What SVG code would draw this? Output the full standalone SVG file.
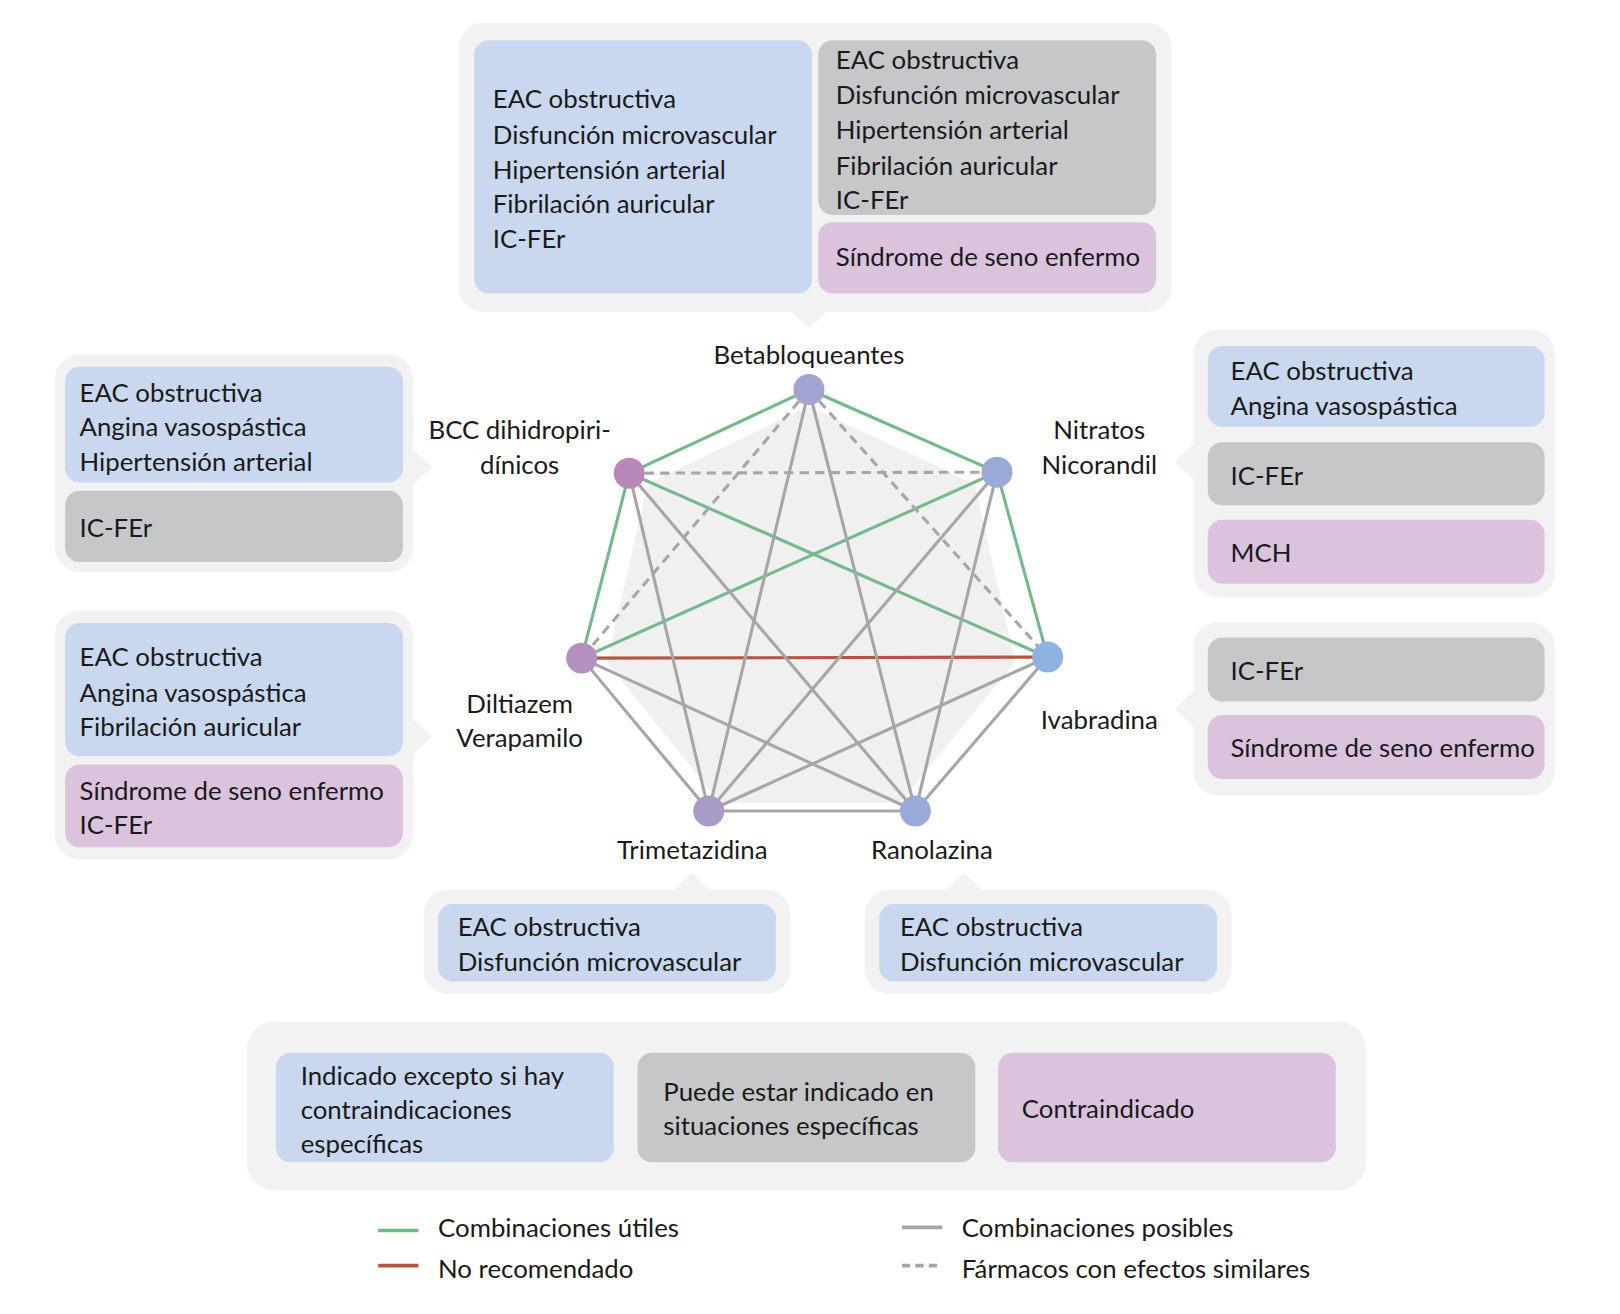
<svg xmlns="http://www.w3.org/2000/svg" width="1620" height="1314" viewBox="0 0 1620 1314">
<style>
text{font-family:Lato,"Open Sans",sans-serif;font-size:25px;fill:#1a1a1a}
.lbl{text-anchor:middle}
.panel{fill:#f2f2f2;stroke:#f2f2f2;stroke-width:4;stroke-linejoin:round}
.b{fill:#c9d8ee}.g{fill:#c6c7c9}.p{fill:#dbc3de}
.e{stroke-width:3;fill:none;stroke-linecap:round}
.gr{stroke:#74b98c}.rd{stroke:#b5553f}.gy{stroke:#a6a6a6}.ds{stroke:#a6a6a6;stroke-dasharray:9 6;stroke-linecap:butt}
</style>
<rect width="1620" height="1314" fill="#ffffff"/>
<g transform="scale(1.033163)">
<polygon points="783,401 633,473 595,639 700,770 868,770 975,639 937,473" fill="#f0f0f0" stroke="#f0f0f0" stroke-width="14" stroke-linejoin="round"/>
<g id="connectors">
<line class="e gr" x1="783" y1="377" x2="609" y2="458"/>
<line class="e gr" x1="783" y1="377" x2="965" y2="457"/>
<line class="e gr" x1="609" y1="458" x2="563" y2="637"/>
<line class="e gr" x1="965" y1="457" x2="1014" y2="636"/>
<line class="e gr" x1="609" y1="458" x2="1014" y2="636"/>
<line class="e gr" x1="563" y1="637" x2="965" y2="457"/>
<line class="e rd" x1="563" y1="637" x2="1014" y2="636"/>
<line class="e ds" x1="783" y1="377" x2="563" y2="637"/>
<line class="e ds" x1="783" y1="377" x2="1014" y2="636"/>
<line class="e ds" x1="609" y1="458" x2="965" y2="457"/>
<line class="e gy" x1="783" y1="377" x2="686" y2="785"/>
<line class="e gy" x1="783" y1="377" x2="886" y2="785"/>
<line class="e gy" x1="609" y1="458" x2="686" y2="785"/>
<line class="e gy" x1="609" y1="458" x2="886" y2="785"/>
<line class="e gy" x1="965" y1="457" x2="686" y2="785"/>
<line class="e gy" x1="965" y1="457" x2="886" y2="785"/>
<line class="e gy" x1="563" y1="637" x2="686" y2="785"/>
<line class="e gy" x1="563" y1="637" x2="886" y2="785"/>
<line class="e gy" x1="1014" y1="636" x2="686" y2="785"/>
<line class="e gy" x1="1014" y1="636" x2="886" y2="785"/>
<line class="e gy" x1="686" y1="785" x2="886" y2="785"/>
</g>

<g id="betabloqueantes">
<rect class="panel" x="446" y="24" width="686" height="276" rx="22"/>
<polygon class="panel" points="765,298 801,298 783,315"/>
<rect class="b" x="459" y="39" width="327" height="245" rx="14"/>
<rect class="g" x="792" y="39" width="327" height="169" rx="14"/>
<rect class="p" x="792" y="215" width="327" height="69" rx="14"/>
<text x="477" y="105">EAC obstructiva</text>
<text x="477" y="139">Disfunción microvascular</text>
<text x="477" y="173">Hipertensión arterial</text>
<text x="477" y="206">Fibrilación auricular</text>
<text x="477" y="240">IC-FEr</text>
<text x="809" y="67">EAC obstructiva</text>
<text x="809" y="101">Disfunción microvascular</text>
<text x="809" y="135">Hipertensión arterial</text>
<text x="809" y="169">Fibrilación auricular</text>
<text x="809" y="202">IC-FEr</text>
<text x="809" y="257">Síndrome de seno enfermo</text>
<text class="lbl" x="783" y="352">Betabloqueantes</text>
<circle cx="783" cy="377" r="15" fill="#a3a3d0"/>
</g>

<g id="bcc">
<rect class="panel" x="55" y="345" width="343" height="207" rx="22"/>
<polygon class="panel" points="396,434 415,452 396,470"/>
<rect class="b" x="63" y="355" width="327" height="112" rx="14"/>
<rect class="g" x="63" y="475" width="327" height="69" rx="14"/>
<text x="77" y="389">EAC obstructiva</text>
<text x="77" y="422">Angina vasospástica</text>
<text x="77" y="456">Hipertensión arterial</text>
<text x="77" y="520">IC-FEr</text>
<text class="lbl" x="503" y="425">BCC dihidropiri-</text>
<text class="lbl" x="503" y="459">dínicos</text>
<circle cx="609" cy="458" r="15" fill="#b889b8"/>
</g>

<g id="diltiazem">
<rect class="panel" x="55" y="593" width="343" height="237" rx="22"/>
<polygon class="panel" points="396,695 415,713 396,731"/>
<rect class="b" x="63" y="603" width="327" height="129" rx="14"/>
<rect class="p" x="63" y="740" width="327" height="80" rx="14"/>
<text x="77" y="645">EAC obstructiva</text>
<text x="77" y="679">Angina vasospástica</text>
<text x="77" y="712">Fibrilación auricular</text>
<text x="77" y="774">Síndrome de seno enfermo</text>
<text x="77" y="807">IC-FEr</text>
<text class="lbl" x="503" y="690">Diltiazem</text>
<text class="lbl" x="503" y="723">Verapamilo</text>
<circle cx="563" cy="637" r="15" fill="#b391bf"/>
</g>

<g id="nitratos">
<rect class="panel" x="1157" y="321" width="346" height="255" rx="22"/>
<polygon class="panel" points="1159,429 1140,447 1159,465"/>
<rect class="b" x="1169" y="335" width="326" height="78" rx="14"/>
<rect class="g" x="1169" y="428" width="326" height="61" rx="14"/>
<rect class="p" x="1169" y="503" width="326" height="62" rx="14"/>
<text x="1191" y="368">EAC obstructiva</text>
<text x="1191" y="402">Angina vasospástica</text>
<text x="1191" y="469">IC-FEr</text>
<text x="1191" y="544">MCH</text>
<text class="lbl" x="1064" y="425">Nitratos</text>
<text class="lbl" x="1064" y="459">Nicorandil</text>
<circle cx="965" cy="457" r="15" fill="#9aaad6"/>
</g>

<g id="ivabradina">
<rect class="panel" x="1157" y="604" width="346" height="164" rx="22"/>
<polygon class="panel" points="1159,668 1140,686 1159,704"/>
<rect class="g" x="1169" y="617" width="326" height="62" rx="14"/>
<rect class="p" x="1169" y="692" width="326" height="62" rx="14"/>
<text x="1191" y="658">IC-FEr</text>
<text x="1191" y="733">Síndrome de seno enfermo</text>
<text class="lbl" x="1064" y="706">Ivabradina</text>
<circle cx="1014" cy="636" r="15" fill="#8fb3e0"/>
</g>

<g id="trimetazidina">
<rect class="panel" x="412" y="863" width="351" height="97" rx="22"/>
<polygon class="panel" points="652,865 670,847 688,865"/>
<rect class="b" x="424" y="875" width="327" height="75" rx="14"/>
<text x="443" y="906">EAC obstructiva</text>
<text x="443" y="940">Disfunción microvascular</text>
<text class="lbl" x="670" y="831">Trimetazidina</text>
<circle cx="686" cy="785" r="15" fill="#a99bc8"/>
</g>

<g id="ranolazina">
<rect class="panel" x="839" y="863" width="351" height="97" rx="22"/>
<polygon class="panel" points="915,865 933,847 951,865"/>
<rect class="b" x="851" y="875" width="327" height="75" rx="14"/>
<text x="871" y="906">EAC obstructiva</text>
<text x="871" y="940">Disfunción microvascular</text>
<text class="lbl" x="902" y="831">Ranolazina</text>
<circle cx="886" cy="785" r="15" fill="#98aad8"/>
</g>

<g id="leyenda">
<rect class="panel" x="241" y="991" width="1079" height="159" rx="24"/>
<rect class="b" x="267" y="1019" width="327" height="106" rx="14"/>
<rect class="g" x="617" y="1019" width="327" height="106" rx="14"/>
<rect class="p" x="966" y="1019" width="327" height="106" rx="14"/>
<text x="291" y="1050">Indicado excepto si hay</text>
<text x="291" y="1083">contraindicaciones</text>
<text x="291" y="1116">específicas</text>
<text x="642" y="1066">Puede estar indicado en</text>
<text x="642" y="1099">situaciones específicas</text>
<text x="989" y="1082">Contraindicado</text>
<line x1="366" y1="1191" x2="405" y2="1191" stroke="#74b98c" stroke-width="3.5"/>
<line x1="366" y1="1225" x2="405" y2="1225" stroke="#b5553f" stroke-width="3.5"/>
<line x1="873" y1="1188" x2="912" y2="1188" stroke="#a6a6a6" stroke-width="3.5"/>
<line x1="873" y1="1225" x2="912" y2="1225" stroke="#a6a6a6" stroke-width="3.5" stroke-dasharray="8 5"/>
<text x="424" y="1197">Combinaciones útiles</text>
<text x="424" y="1237">No recomendado</text>
<text x="931" y="1197">Combinaciones posibles</text>
<text x="931" y="1237">Fármacos con efectos similares</text>
</g>
</g>
</svg>
